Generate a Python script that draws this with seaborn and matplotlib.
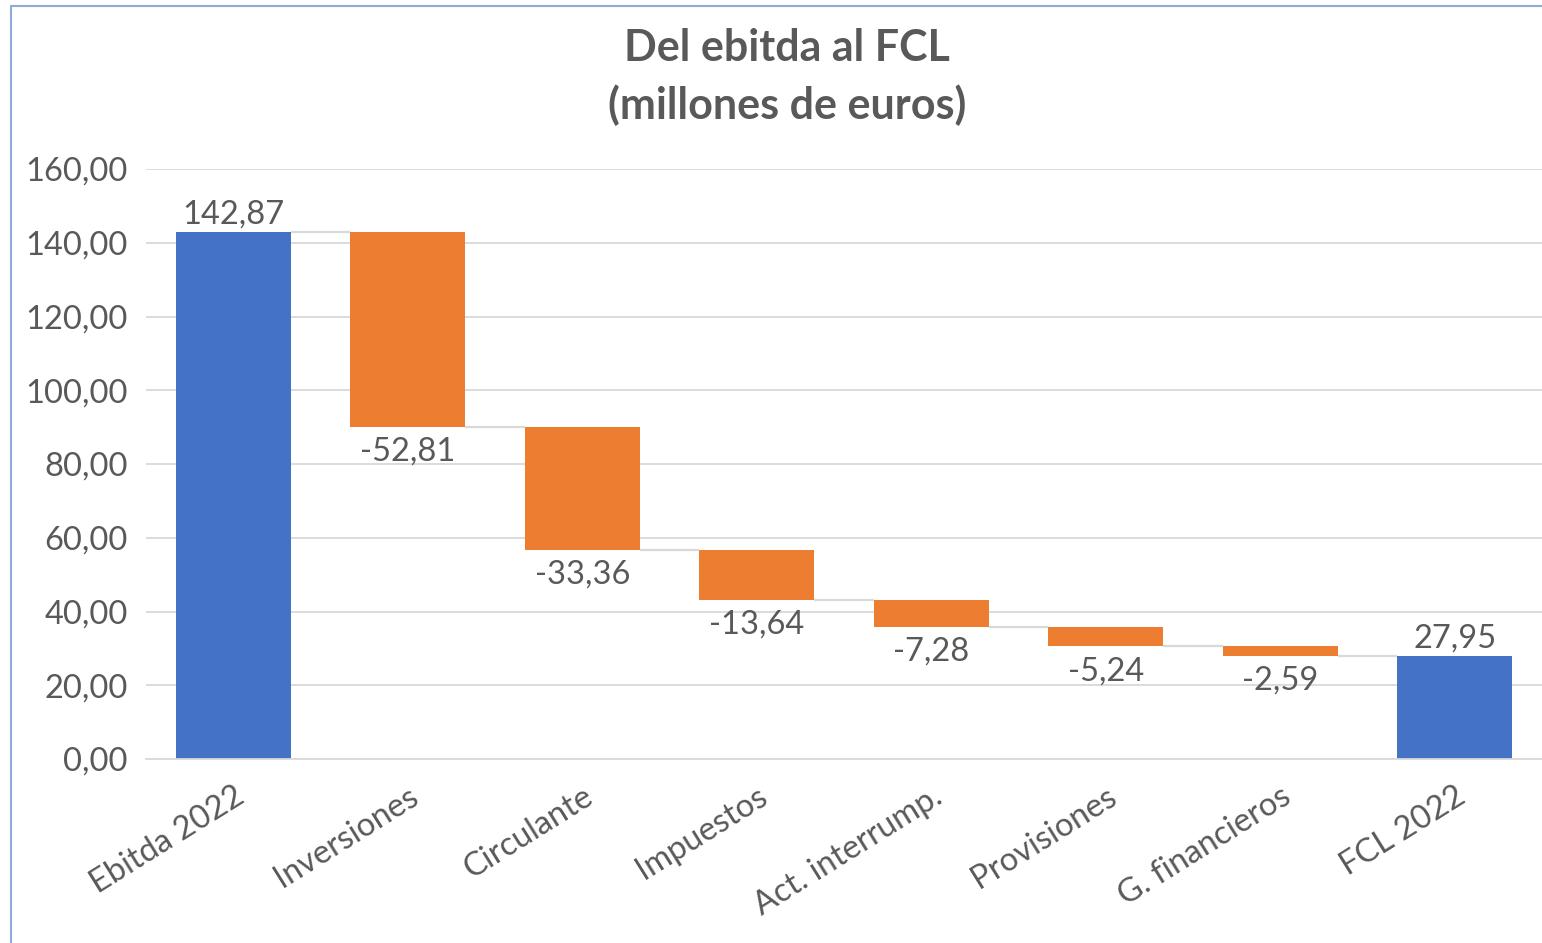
import numpy as np
import pandas as pd
import matplotlib
matplotlib.use("Agg")
import matplotlib.pyplot as plt
from matplotlib.lines import Line2D
import seaborn as sns

# ---- data ----
categories = ["Ebitda 2022", "Inversiones", "Circulante", "Impuestos",
              "Act. interrump.", "Provisiones", "G. financieros", "FCL 2022"]
values = [142.87, -52.81, -33.36, -13.64, -7.28, -5.24, -2.59, 27.95]
is_total = [True, False, False, False, False, False, False, True]
yticks = [0, 20, 40, 60, 80, 100, 120, 140, 160]
title_lines = ["Del ebitda al FCL", "(millones de euros)"]

BLUE = "#4472C4"
ORANGE = "#ED7D31"
TXT = "#595959"
GRID = "#D9D9D9"
FS = 23.5

def fmt(v):
    return f"{v:.2f}".replace(".", ",")

# waterfall geometry from the data
low, high, run = [], [], 0.0
for v, t in zip(values, is_total):
    if t:
        low.append(0.0); high.append(v); run = v
    else:
        new = run + v
        low.append(min(run, new)); high.append(max(run, new)); run = new
df = pd.DataFrame({"cat": categories, "val": values, "total": is_total,
                   "low": low, "high": high})
df["h"] = df["high"] - df["low"]

sns.set_theme(style="white")
plt.rcParams["font.family"] = ["Lato", "DejaVu Sans"]

W, H = 1542, 943
fig = plt.figure(figsize=(W / 100, H / 100), dpi=100)
ax = fig.add_axes([146 / W, (H - 759) / H, (W - 146) / W, (759 - 169) / H])

bw = 0.66
tot = df[df["total"]]
chg = df[~df["total"]]
sns.barplot(data=tot, x="cat", y="h", order=categories, color=BLUE,
            width=bw, saturation=1, ax=ax, bottom=tot["low"].values,
            linewidth=0)
sns.barplot(data=chg, x="cat", y="h", order=categories, color=ORANGE,
            width=bw, saturation=1, ax=ax, bottom=chg["low"].values,
            linewidth=0)

# connectors
levels = []
run = 0.0
for v, t in zip(values, is_total):
    run = v if t else run + v
    levels.append(run)
for i in range(len(categories) - 1):
    ax.plot([i + bw / 2, i + 1 - bw / 2], [levels[i], levels[i]],
            color=GRID, lw=1.6, zorder=1, solid_capstyle="butt")

# labels
for i, (v, t) in enumerate(zip(values, is_total)):
    if t or v >= 0:
        ax.annotate(fmt(v), (i, df["high"][i]), xytext=(0, 2),
                    textcoords="offset points", ha="center", va="bottom",
                    fontsize=FS, color=TXT)
    else:
        ax.annotate(fmt(v), (i, df["low"][i]), xytext=(0, -7),
                    textcoords="offset points", ha="center", va="top",
                    fontsize=FS, color=TXT)

ax.set_xlim(-0.5, len(categories) - 0.5)
ax.set_ylim(0, 160)
ax.set_yticks(yticks)
ax.set_yticklabels([fmt(y) for y in yticks], fontsize=FS, color=TXT)
ax.yaxis.grid(True, color=GRID, lw=1.3)
ax.set_axisbelow(True)
for s in ["top", "right", "left"]:
    ax.spines[s].set_visible(False)
ax.spines["bottom"].set_color(GRID)
ax.spines["bottom"].set_linewidth(1.3)
ax.tick_params(axis="y", length=0, pad=13)
ax.tick_params(axis="x", length=0, pad=16)
ax.set_xticks(range(len(categories)))
ax.set_xticklabels(categories, rotation=32, ha="right",
                   rotation_mode="anchor", fontsize=FS, color=TXT)
ax.set_xlabel("")
ax.set_ylabel("")

fig.text(787 / W, 1 - 48 / H, title_lines[0], ha="center", va="center",
         fontsize=31, fontweight="bold", color=TXT)
fig.text(787 / W, 1 - 105 / H, title_lines[1], ha="center", va="center",
         fontsize=31, fontweight="bold", color=TXT)

# chart border (left and top visible)
fig.add_artist(Line2D([11 / W, 11 / W], [0, 1 - 6 / H], transform=fig.transFigure,
                      color="#8FAADC", lw=1.5))
fig.add_artist(Line2D([11 / W, 1], [1 - 6 / H, 1 - 6 / H], transform=fig.transFigure,
                      color="#8FAADC", lw=1.5))

fig.savefig("out.png", dpi=100, facecolor="white")
